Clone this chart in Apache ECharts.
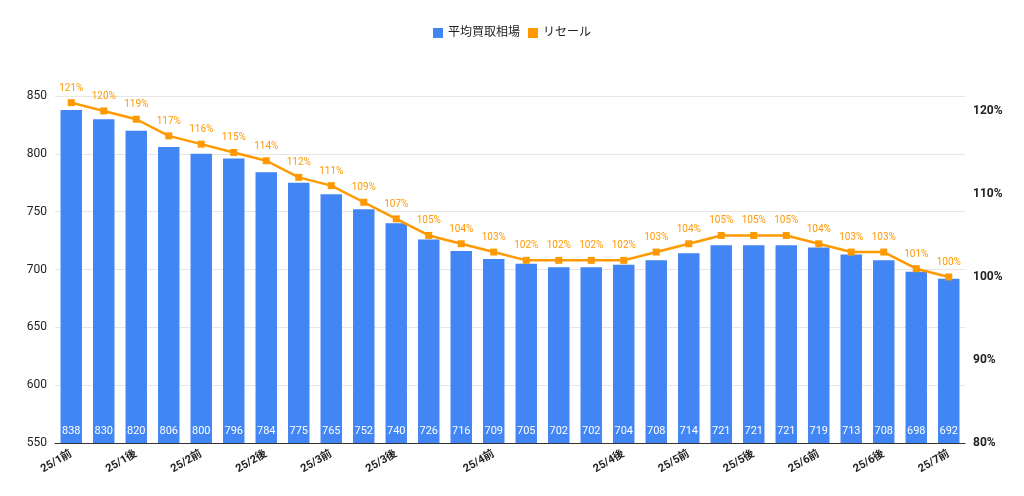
<!DOCTYPE html><html><head><meta charset="utf-8"><script src="https://cdn.jsdelivr.net/npm/echarts@6/dist/echarts.min.js"></script></head><body style="margin:0"><div id="c" style="width:1024px;height:496px"></div><script>
const categories=['25/1前','','25/1後','','25/2前','','25/2後','','25/3前','','25/3後','','','25/4前','','','','25/4後','','25/5前','','25/5後','','25/6前','','25/6後','','25/7前'];
const avgPrice=[838,830,820,806,800,796,784,775,765,752,740,726,716,709,705,702,702,704,708,714,721,721,721,719,713,708,698,692];
const resale=[121,120,119,117,116,115,114,112,111,109,107,105,104,103,102,102,102,102,103,104,105,105,105,104,103,103,101,100];
const ch=echarts.init(document.getElementById('c'));
const F='Roboto, "Noto Sans CJK JP", sans-serif';
ch.setOption({
textStyle:{fontFamily:F},
legend:{top:22,left:'center',itemWidth:10,itemHeight:10,icon:'rect',textStyle:{fontSize:12,color:'#222'},data:['平均買取相場','リセール']},
grid:{left:55,right:59,top:96,bottom:53},
xAxis:{type:'category',data:categories,axisTick:{show:false},axisLine:{lineStyle:{color:'#333'}},
 axisLabel:{interval:0,rotate:30,color:'#222',fontSize:11,fontWeight:'bold',margin:10}},
yAxis:[{type:'value',min:550,max:850,interval:50,axisLine:{show:false},axisTick:{show:false},
 axisLabel:{color:'#222',fontSize:12},splitLine:{lineStyle:{color:'#e6e6e6'}}},
 {type:'value',min:80,max:121.8,interval:10,axisLine:{show:false},axisTick:{show:false},splitLine:{show:false},
 axisLabel:{color:'#222',fontSize:12,fontWeight:'bold',formatter:v=>Number.isInteger(v)?v+'%':''}}],
series:[{name:'平均買取相場',type:'bar',data:avgPrice,barWidth:'66%',itemStyle:{color:'#4285f4'},
 label:{show:true,position:'insideBottom',color:'#fff',fontSize:11,distance:6}},
{name:'リセール',type:'line',yAxisIndex:1,data:resale,symbol:'rect',symbolSize:7,itemStyle:{color:'#ff9900'},lineStyle:{width:2.5,color:'#ff9900'},
 label:{show:true,position:'top',color:'#ff9900',fontSize:10,formatter:p=>p.value+'%',distance:6}}]
});
</script></body></html>
